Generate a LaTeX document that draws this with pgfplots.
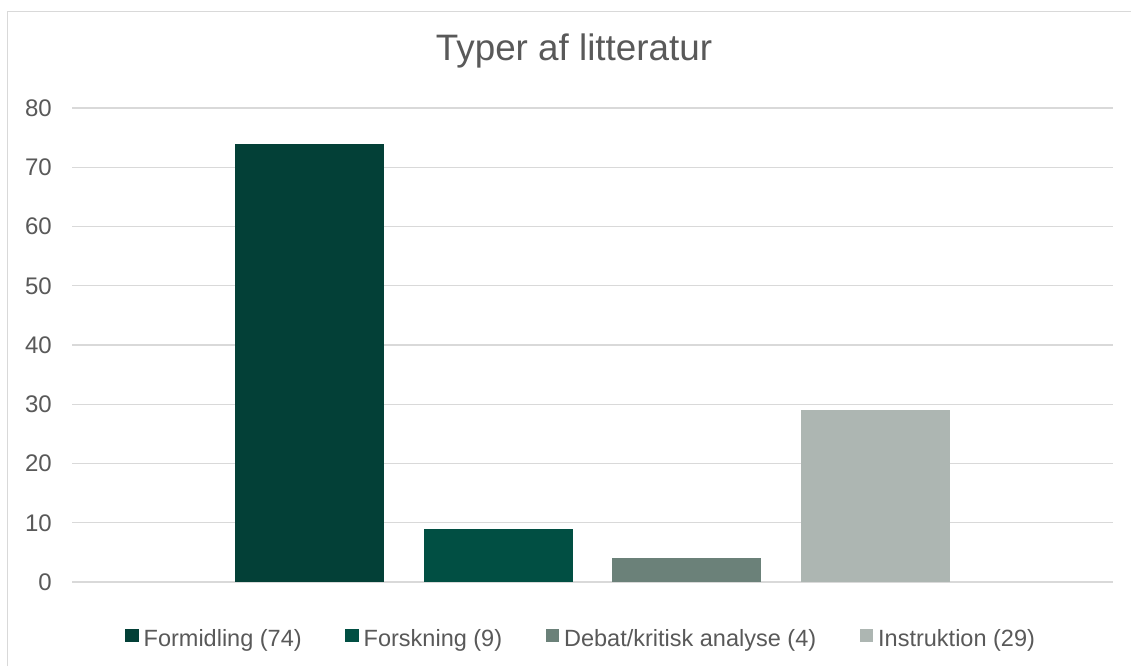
\documentclass[border=0pt]{standalone}
\usepackage{pgfplots}
\pgfplotsset{compat=1.18}
\usepackage{fontspec}
\setmainfont{Liberation Sans}
\definecolor{c1}{HTML}{034037}
\definecolor{c2}{HTML}{014F43}
\definecolor{c3}{HTML}{6B8179}
\definecolor{c4}{HTML}{ADB6B2}
\definecolor{txt}{HTML}{595959}
\definecolor{grd}{HTML}{D9D9D9}
\pgfplotsset{
  mybar/.style={ybar, bar width=149pt, bar shift=0pt, draw=none, fill=#1,
    legend image code/.code={\fill[fill=#1] (0pt,-3pt) rectangle (13.5pt,10.5pt);}}
}
\begin{document}
\begin{tikzpicture}[x=1pt,y=1pt]
\useasboundingbox (0,0) rectangle (1131,666);
\fill[white] (0,0) rectangle (1131,666);
\draw[grd, line width=1.3pt] (7.5,0) -- (7.5,654.5) -- (1131,654.5);
\node[anchor=base, text=txt, font=\fontsize{36.8}{44}\selectfont, inner sep=0pt] at (574,605.3) {Typer af litteratur};
\begin{axis}[
  at={(72pt,84pt)}, anchor=south west,
  scale only axis, width=1041pt, height=474pt,
  xmin=-1.257, xmax=4.257, ymin=0, ymax=80,
  ytick={0,10,...,80}, xtick=\empty,
  axis line style={draw=none},
  tick style={draw=none}, major tick length=0pt,
  ymajorgrids, major grid style={grd, line width=1.3pt},
  /pgf/number format/assume math mode=true,
  yticklabel style={font=\fontsize{24}{28}\selectfont, text=txt, anchor=east, inner sep=0pt, xshift=-20pt},
  legend columns=4,
  legend style={at={(0,0)}, anchor=north west, xshift=53pt, yshift=-46.5pt, draw=none, fill=none,
    font=\fontsize{23.5}{28}\selectfont, text=txt, inner sep=0pt,
    nodes={inner sep=0pt},
    /tikz/every odd column/.append style={column sep=5pt},
    /tikz/every even column/.append style={column sep=43.5pt}},
  clip=false,
]
\addplot[mybar=c1] coordinates {(0,74)};
\addlegendentry{Formidling (74)}
\addplot[mybar=c2] coordinates {(1,9)};
\addlegendentry{Forskning (9)}
\addplot[mybar=c3] coordinates {(2,4)};
\addlegendentry{Debat/kritisk analyse (4)}
\addplot[mybar=c4] coordinates {(3,29)};
\addlegendentry{Instruktion (29)}
\end{axis}
\end{tikzpicture}
\end{document}
